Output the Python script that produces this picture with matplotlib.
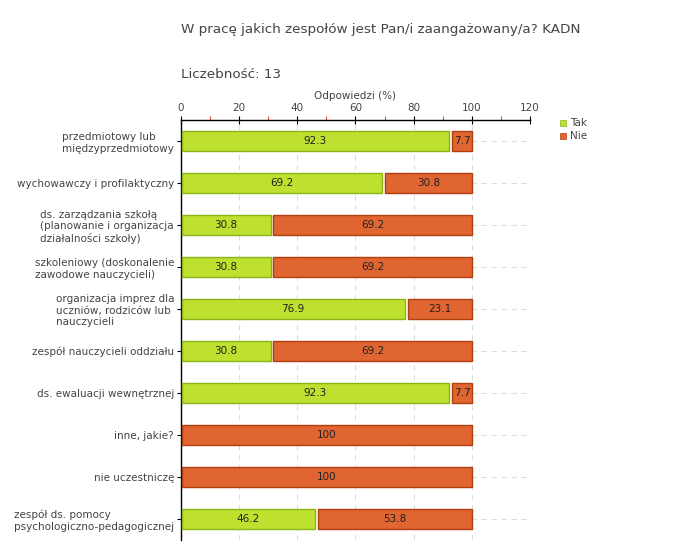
import matplotlib.pyplot as plt
import numpy as np

# data
categories = ["przedmiotowy lub\nmiędzyprzedmiotowy",
              "wychowawczy i profilaktyczny",
              "ds. zarządzania szkołą\n(planowanie i organizacja\ndziałalności szkoły)",
              "szkoleniowy (doskonalenie\nzawodowe nauczycieli)",
              "organizacja imprez dla\nuczniów, rodziców lub\nnauczycieli",
              "zespół nauczycieli oddziału",
              "ds. ewaluacji wewnętrznej",
              "inne, jakie?",
              "nie uczestniczę",
              "zespół ds. pomocy\npsychologiczno-pedagogicznej"]
tak = [92.3, 69.2, 30.8, 30.8, 76.9, 30.8, 92.3, 0, 0, 46.2]
nie = [7.7, 30.8, 69.2, 69.2, 23.1, 69.2, 7.7, 100, 100, 53.8]
series = ["Tak", "Nie"]

txt = '#444444'
green, green_edge = '#bde12e', '#8cb41a'
red, red_edge = '#e06530', '#b0400f'

plt.rcParams['font.family'] = ['DejaVu Sans']
fig = plt.figure(figsize=(6.8, 5.6), dpi=100)
ax = fig.add_axes([181/680, 1-540/560, 349/680, 420/560])

y = np.arange(len(categories))
gap = 1.0
for i in y:
    t, n = tak[i], nie[i]
    if t > 0:
        ax.barh(i, t - 0.3, left=0.3, height=0.48, color=green, edgecolor=green_edge, lw=1, zorder=3)
        ax.text(t / 2, i, f"{t:g}", ha='center', va='center', fontsize=7.5, color='#222222', zorder=4)
    if n > 0:
        left = t + gap if t > 0 else 0.3
        ax.barh(i, 100 - left, left=left, height=0.48, color=red, edgecolor=red_edge, lw=1, zorder=3)
        ax.text((left + 100) / 2, i, f"{n:g}", ha='center', va='center', fontsize=7.5, color='#222222', zorder=4)

ax.set_xlim(0, 120)
ax.set_ylim(len(categories) - 0.5, -0.5)
ax.xaxis.tick_top()
ax.xaxis.set_label_position('top')
ax.set_xticks(np.arange(0, 121, 20))
ax.set_xticks(np.arange(10, 120, 20), minor=True)
ax.tick_params(axis='x', which='major', direction='inout', length=6, labelsize=7.5, labelcolor=txt, pad=2)
ax.tick_params(axis='x', which='minor', direction='out', length=3, color='#dd2222')
ax.set_xlabel("Odpowiedzi (%)", fontsize=7.5, color=txt, labelpad=3)

ax.set_yticks(y)
ax.set_yticklabels(categories, fontsize=7.5, color=txt)
for lab in ax.get_yticklabels():
    lab.set_multialignment('left')
ax.tick_params(axis='y', direction='out', length=3, pad=2)

ax.grid(True, which='major', color='#dddddd', ls=(0, (5, 4)), lw=0.8, zorder=0)
for s in ['right', 'bottom']:
    ax.spines[s].set_visible(False)
for s in ['left', 'top']:
    ax.spines[s].set_color('black')
    ax.spines[s].set_linewidth(1)

fig.text(181/680, 1-30/560, "W pracę jakich zespołów jest Pan/i zaangażowany/a? KADN",
         fontsize=9.7, color=txt, va='center')
fig.text(181/680, 1-75/560, "Liczebność: 13", fontsize=9.7, color=txt, va='center')

# legend
for k, (name, c, e) in enumerate(zip(series, [green, red], [green_edge, red_edge])):
    fig.patches.append(plt.Rectangle((560/680, 1-(126+13*k)/560), 6/680, 6/560,
                                     facecolor=c, edgecolor=e, lw=0.5, transform=fig.transFigure))
    fig.text(570/680, 1-(123+13*k)/560, name, fontsize=7.5, color=txt, va='center')

fig.savefig('out.png', dpi=100)
